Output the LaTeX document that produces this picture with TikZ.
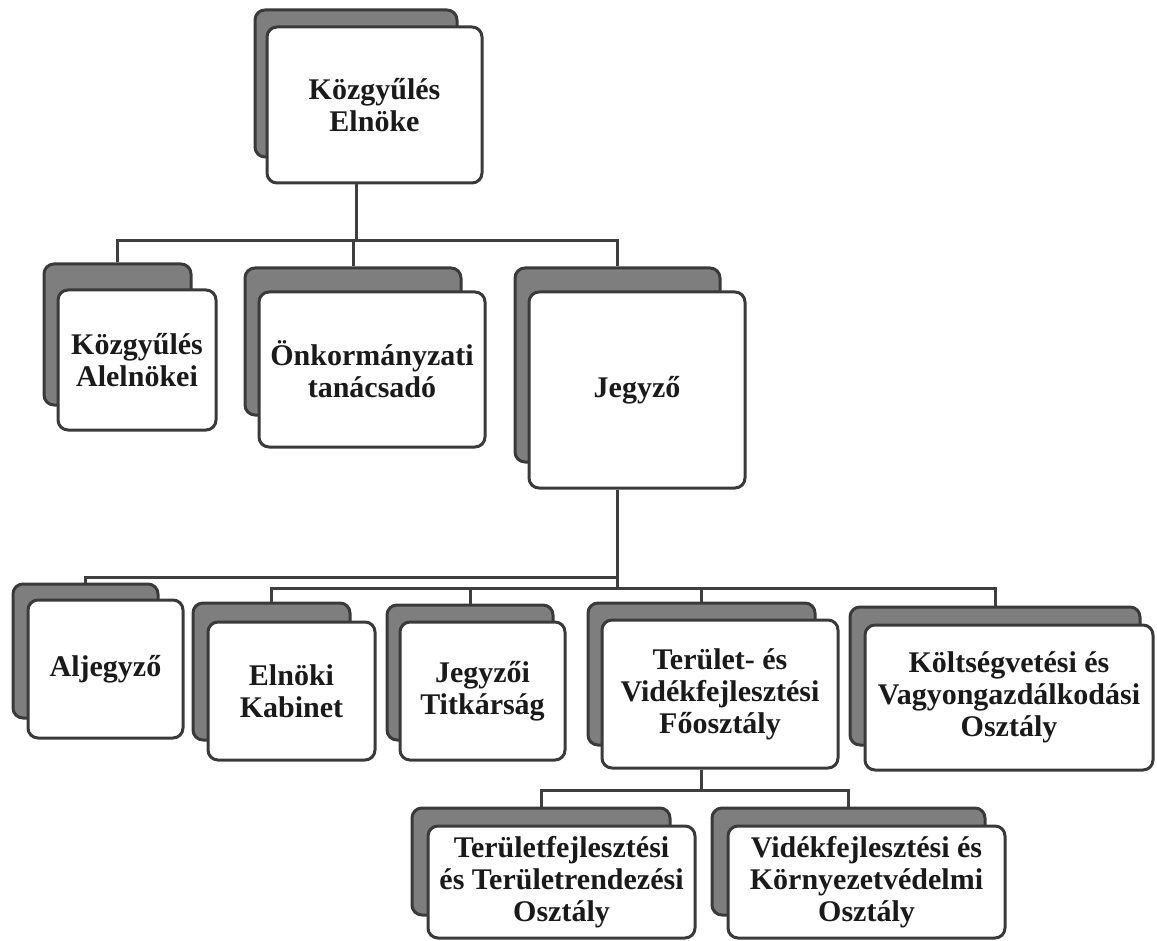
\documentclass[tikz,border=0pt]{standalone}
\usepackage{fontspec}
\setmainfont{Liberation Serif}
\begin{document}
\begin{tikzpicture}[x=0.5pt,y=-0.5pt,
  backbox/.style={draw=customcolor0,fill=customcolor1,line width=1.5pt,rounded corners=5pt,inner sep=0pt},
  frontbox/.style={draw=customcolor0,fill=customcolor2,line width=1.5pt,rounded corners=5pt,inner sep=0pt,
    text=customcolor4,align=center,font=\fontsize{15}{16}\selectfont\bfseries},
  link/.style={customcolor3,line width=1.5pt}]
\definecolor{customcolor0}{HTML}{3A3A3A}
\definecolor{customcolor1}{HTML}{7E7E7E}
\definecolor{customcolor2}{HTML}{FFFFFF}
\definecolor{customcolor3}{HTML}{3F3F3F}
\definecolor{customcolor4}{HTML}{1A1A1A}
\useasboundingbox (0,0) rectangle (1157,941);
% top
\node[backbox,minimum width=101pt,minimum height=73.5pt] (elnoke-s) at (356,83.5) {};
\node[frontbox,minimum width=107.5pt,minimum height=78pt] (elnoke) at (374.5,105) {Közgyűlés\\Elnöke};
% second row
\node[backbox,minimum width=73.5pt,minimum height=70.5pt] (alel-s) at (117.5,334.5) {};
\node[frontbox,minimum width=79pt,minimum height=70pt] (alel) at (137,360) {Közgyűlés\\Alelnökei};
\node[backbox,minimum width=108pt,minimum height=73.5pt] (onk-s) at (353,341.5) {};
\node[frontbox,minimum width=113pt,minimum height=77.5pt] (onk) at (372,369.5) {Önkormányzati\\tanácsadó};
\node[backbox,minimum width=102.5pt,minimum height=97pt] (jegyzo-s) at (617.5,365) {};
\node[frontbox,minimum width=108pt,minimum height=98pt] (jegyzo) at (637,390) {Jegyző};
% third row
\node[backbox,minimum width=72.5pt,minimum height=67pt] (aljegyzo-s) at (85.5,651) {};
\node[frontbox,minimum width=77.5pt,minimum height=69pt] (aljegyzo) at (105.5,669) {Aljegyző};
\node[backbox,minimum width=78.5pt,minimum height=68.5pt] (kabinet-s) at (271.5,671.5) {};
\node[frontbox,minimum width=83.5pt,minimum height=69pt] (kabinet) at (291.5,691) {Elnöki\\Kabinet};
\node[backbox,minimum width=83pt,minimum height=67.5pt] (titkarsag-s) at (470,672.5) {};
\node[frontbox,minimum width=82.5pt,minimum height=69pt] (titkarsag) at (482.5,691) {Jegyzői\\Titkárság};
\node[backbox,minimum width=113.5pt,minimum height=71pt] (foosztaly-s) at (701.5,674) {};
\node[frontbox,minimum width=118pt,minimum height=74pt] (foosztaly) at (720,694) {Terület- és\\Vidékfejlesztési\\Főosztály};
\node[backbox,minimum width=145pt,minimum height=69pt] (koltseg-s) at (995,676) {};
\node[frontbox,minimum width=144pt,minimum height=72.5pt] (koltseg) at (1009,697.5) {Költségvetési és\\Vagyongazdálkodási\\Osztály};
% bottom row
\node[backbox,minimum width=129pt,minimum height=53.5pt] (tfejl-s) at (541,861.5) {};
\node[frontbox,minimum width=133.5pt,minimum height=56pt] (tfejl) at (561.5,882) {Területfejlesztési\\és Területrendezési\\Osztály};
\node[backbox,minimum width=136.5pt,minimum height=53.5pt] (vfejl-s) at (848.5,861.5) {};
\node[frontbox,minimum width=138.5pt,minimum height=56pt] (vfejl) at (866.5,882) {Vidékfejlesztési és\\Környezetvédelmi\\Osztály};
% connectors
\coordinate (bus1) at (356,241);
\coordinate (bus2) at (617.5,577);
\coordinate (bus3) at (617.5,588);
\coordinate (bus4) at (701.5,790);
\draw[link] (elnoke.south -| elnoke-s) -- (bus1);
\draw[link] (alel-s.north) |- (bus1) -| (jegyzo-s.north);
\draw[link] (bus1) -| (onk-s.north);
\draw[link] (jegyzo.south -| jegyzo-s) -- (bus3);
\draw[link] (aljegyzo-s.north) |- (bus2);
\draw[link] (kabinet-s.north) |- (bus3) -| (koltseg-s.north);
\draw[link] (titkarsag-s.north) -- (titkarsag-s.north |- bus3);
\draw[link] (foosztaly-s.north) -- (foosztaly-s.north |- bus3);
\draw[link] (foosztaly.south -| foosztaly-s) -- (bus4);
\draw[link] (tfejl-s.north) |- (bus4) -| (vfejl-s.north);
\end{tikzpicture}
\end{document}
